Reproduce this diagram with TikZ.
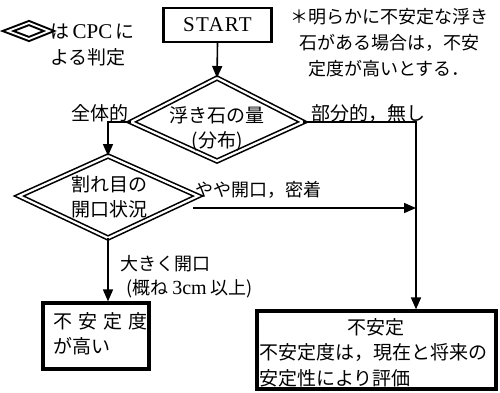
\documentclass[tikz,border=0pt]{standalone}
\usepackage{fontspec}
\setmainfont{Liberation Serif}
\newfontfamily\jp{Noto Sans CJK JP}
\usetikzlibrary{arrows.meta}
\begin{document}
\begin{tikzpicture}[x=1pt,y=-1pt,
  conn/.style={line width=1.6pt,-{Triangle[length=12pt,width=10pt]}},
  dbl/.style={draw, double, double distance=2.2pt, line width=1.6pt, line join=miter},
  txt/.style={font=\jp\fontsize{19}{25}\selectfont, inner sep=0pt},
  stxt/.style={font=\jp\fontsize{18}{26}\selectfont, inner sep=0pt},
  box/.style={draw, line width=3.2pt, inner sep=0pt},
]
\useasboundingbox (0,0) rectangle (500,392);
% legend
\coordinate (gn) at (29,23); \coordinate (ge) at (49,31);
\coordinate (gs) at (29,39); \coordinate (gw) at (8,31);
\draw[dbl, line width=2pt, double distance=1.8pt] (gn) -- (ge) -- (gs) -- (gw) -- cycle;
\node[txt, anchor=west] (leg1) at (50,32) {は{\rmfamily\fontsize{21}{25}\selectfont\,CPC\,}に};
\node[txt, anchor=west] (leg2) at (50,57) {よる判定};
% note
\node[stxt, align=center] (note) at (389,43) {＊明らかに不安定な浮き\\石がある場合は，不安\\定度が高いとする．};
% start
\node[box, line width=2.4pt, minimum width=108pt, minimum height=34pt,
  font=\rmfamily\fontsize{21}{22}\selectfont\addfontfeature{LetterSpace=6}] (start) at (217.5,25) {START};
% diamond 1
\coordinate (d1n) at (217,78); \coordinate (d1e) at (303,122);
\coordinate (d1s) at (217,161); \coordinate (d1w) at (131,122);
\draw[dbl] (d1n) -- (d1e) -- (d1s) -- (d1w) -- cycle;
\node[txt, align=center] (d1t) at (217,129) {浮き石の量\\({\jp 分布})};
% diamond 2
\coordinate (d2n) at (108,156); \coordinate (d2e) at (198,196);
\coordinate (d2s) at (108,238); \coordinate (d2w) at (19,196);
\draw[dbl] (d2n) -- (d2e) -- (d2s) -- (d2w) -- cycle;
\node[txt, align=center] (d2t) at (109,197) {割れ目の\\開口状況};
% result boxes
\node[box, minimum width=106pt, minimum height=66pt] (lb) at (96,336) {};
\node[txt, anchor=west] (lb1) at (53,321) {不\hspace{6pt}安\hspace{6pt}定\hspace{6pt}度};
\node[txt, anchor=west] (lb2) at (53,346) {が高い};
\node[box, minimum width=239pt, minimum height=78pt] (rb) at (376.5,350) {};
\node[txt] (rb1) at (376,327) {不安定};
\node[txt, anchor=west] (rb2) at (259,353) {不安定度は，現在と将来の};
\node[txt, anchor=west] (rb3) at (259,378) {安定性により評価};
% connectors
\coordinate (lk) at (108,122);
\coordinate (rk) at (416,122);
\coordinate (h0) at (193,208);
\draw[conn] (start.south) -- (d1n);
\draw[conn] (d1w) -- (lk) -- (d2n);
\draw[conn] (d1e) -- (rk) -- (rk |- rb.north);
\draw[conn] (h0) -- (h0 -| rk);
\draw[conn] (d2s) -- (d2s |- lb.north);
% labels
\node[txt, anchor=east] (l1) at (129,113) {全体的};
\node[txt, anchor=west] (l2) at (311,113) {部分的，無し};
\node[stxt, anchor=west] (l3) at (195,190) {やや開口，密着};
\node[stxt, anchor=west] (l4) at (120,264) {大きく開口};
\node[stxt, anchor=west] (l5) at (126,289) {({\jp 概ね} {\rmfamily\fontsize{20}{26}\selectfont 3cm} {\jp 以上})};
\end{tikzpicture}
\end{document}
